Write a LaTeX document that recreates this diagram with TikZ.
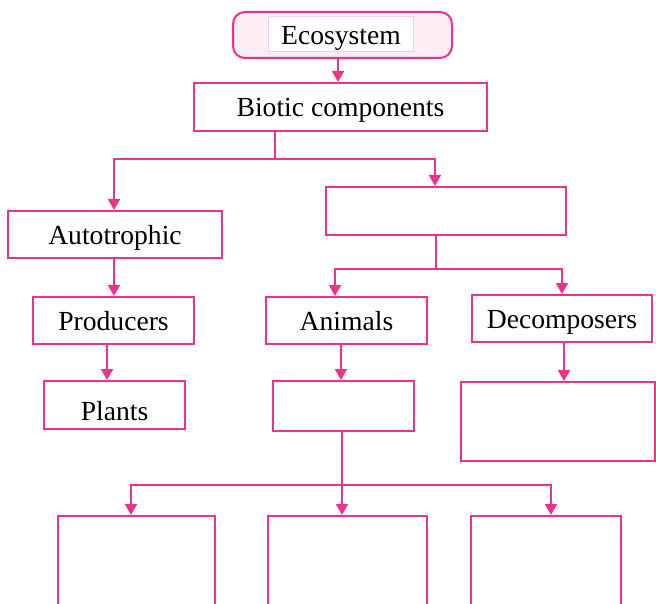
\documentclass[tikz,border=0pt]{standalone}
\usepackage{fontspec}
\setmainfont{Liberation Serif}
\usetikzlibrary{arrows.meta,positioning}

\definecolor{pinkline}{RGB}{236,50,141}
\definecolor{pinkfill}{RGB}{253,238,244}
\definecolor{pinksoft}{RGB}{248,205,224}

\begin{document}
\begin{tikzpicture}[x=1pt,y=-1pt,
        box/.style={draw=pinkline, line width=2pt, fill=white, inner sep=0pt,
            text height=26pt, text depth=6pt, font=\fontsize{27.6}{30}\selectfont},
        link/.style={draw=pinkline, line width=2pt},
        arr/.style={link, -{Triangle[width=12pt,length=11pt]}}]
        \useasboundingbox (0,0) rectangle (656,604);
        
        % Top
        \node[box, rounded corners=12pt, fill=pinkfill, minimum width=219pt, minimum height=46pt] (eco) at (342.5,35) {};
        \node[draw=pinksoft, line width=1pt, fill=white, inner sep=0pt, minimum width=145pt, minimum height=35pt,
            text height=26pt, text depth=6pt, font=\fontsize{27.6}{30}\selectfont] (ecolbl) at (341,34.5) {Ecosystem};
        \node[box, minimum width=293pt, minimum height=48pt] (bio) at (340.5,107) {Biotic components};
        
        % Left branch
        \node[box, minimum width=214pt, minimum height=47pt] (auto) at (115,234.5) {Autotrophic};
        \node[box, minimum width=161pt, minimum height=47pt] (prod) at (113.5,320.5) {Producers};
        \node[box, minimum width=141pt, minimum height=48pt, text height=36pt] (plants) at (114.5,405) {Plants};
        
        % Right branch
        \node[box, minimum width=240pt, minimum height=48pt] (het) at (446,211) {};
        \node[box, minimum width=161pt, minimum height=47pt] (anim) at (346.5,320.5) {Animals};
        \node[box, minimum width=180pt, minimum height=47pt] (decomp) at (562,318.5) {Decomposers};
        \node[box, minimum width=141pt, minimum height=50pt] (anbox) at (343.5,406) {};
        \node[box, minimum width=194pt, minimum height=79pt] (decbox) at (558,421.5) {};
        
        % Bottom row
        \node[box, minimum width=157pt, minimum height=100pt] (low1) at (136.5,566) {};
        \node[box, minimum width=159pt, minimum height=100pt] (low2) at (347.5,566) {};
        \node[box, minimum width=150pt, minimum height=100pt] (low3) at (546,566) {};
        
        % Connectors
        \draw[arr] ([xshift=-4.5pt]eco.south) -- ([xshift=-2.5pt]bio.north);
        
        \coordinate (j1) at (275,159);
        \draw[link] (bio.south -| j1) -- (j1);
        \draw[arr] (j1) -| ([xshift=-1pt]auto.north);
        \draw[arr] (j1) -| ([xshift=-11pt]het.north);
        \draw[arr] ([xshift=-1pt]auto.south) -- ([xshift=-1pt]auto.south |- prod.north);
        \draw[arr] ([xshift=-6.5pt]prod.south) -- ([xshift=-6.5pt]prod.south |- plants.north);
        
        \coordinate (j2) at (436,269);
        \draw[link] (het.south -| j2) -- (j2);
        \draw[arr] (j2) -| ([xshift=-11.5pt]anim.north);
        \draw[arr] (j2) -| (decomp.north);
        \draw[arr] ([xshift=-5.5pt]anim.south) -- ([xshift=-5.5pt]anim.south |- anbox.north);
        \draw[arr] ([xshift=2pt]decomp.south) -- ([xshift=2pt]decomp.south |- decbox.north);
        
        \coordinate (j3) at (342,485);
        \draw[link] (anbox.south -| j3) -- (j3);
        \draw[arr] (j3) -| ([xshift=-5.5pt]low1.north);
        \draw[arr] (j3) -- (j3 |- low2.north);
        \draw[arr] (j3) -| ([xshift=5pt]low3.north);
    \end{tikzpicture}
\end{document}
